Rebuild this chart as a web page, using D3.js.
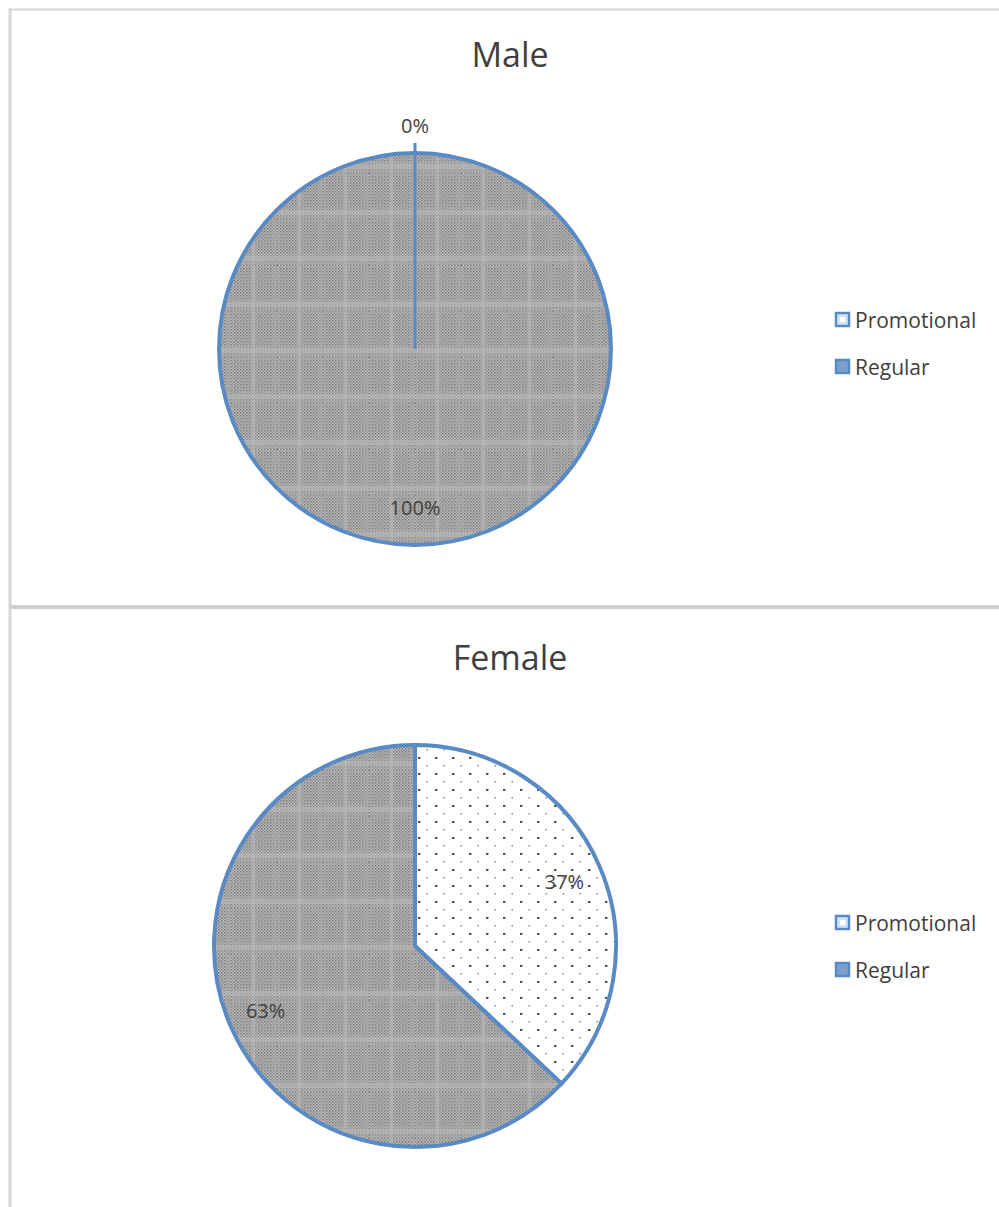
<!DOCTYPE html>
<html lang="en">
<head>
<meta charset="utf-8">
<title>Male / Female - Promotional vs Regular</title>
<script src="https://d3js.org/d3.v7.min.js"></script>
<style>
  body { margin: 0; background: #fff; }
  text { font-family: "Open Sans", "Noto Sans", sans-serif; }
</style>
</head>
<body>
<script>
// data
var categories = ["Promotional", "Regular"];
var panelTitles = ["Male", "Female"];
var maleValues = [0, 100];
var femaleValues = [37, 63];
var panelValues = [maleValues, femaleValues];

var w = 999, h = 1207;
var blue = "#5a8ac4";

var svg = d3.select("body").append("svg")
  .attr("width", w).attr("height", h);

var defs = svg.append("defs");

// fine checker used inside the gray pattern
var fine = defs.append("pattern").attr("id", "fine")
  .attr("patternUnits", "userSpaceOnUse").attr("width", 3).attr("height", 3);
fine.append("rect").attr("width", 3).attr("height", 3).attr("fill", "#c0c0c0");
fine.append("rect").attr("width", 1.5).attr("height", 1.5).attr("fill", "#727272");
fine.append("rect").attr("x", 1.5).attr("y", 1.5).attr("width", 1.5).attr("height", 1.5).attr("fill", "#8c8c8c");

// coarse gray tile (regular slice)
var grayPat = defs.append("pattern").attr("id", "gray")
  .attr("patternUnits", "userSpaceOnUse").attr("width", 46).attr("height", 46)
  .attr("x", 0).attr("y", 8);
grayPat.append("rect").attr("width", 46).attr("height", 46).attr("fill", "#acacac");
grayPat.append("rect").attr("width", 46).attr("height", 46).attr("fill", "url(#fine)").attr("opacity", 0.6);
grayPat.append("rect").attr("x", 3).attr("y", 3).attr("width", 17).attr("height", 31).attr("fill", "url(#fine)");
grayPat.append("rect").attr("x", 25).attr("y", 3).attr("width", 16).attr("height", 31).attr("fill", "url(#fine)");
grayPat.append("rect").attr("x", 0).attr("y", 37).attr("width", 46).attr("height", 5).attr("fill", "#bcbcbc").attr("opacity", 0.45);
grayPat.append("rect").attr("x", 21).attr("y", 0).attr("width", 3).attr("height", 46).attr("fill", "#bcbcbc").attr("opacity", 0.45);

// dotted tile (promotional slice)
var dotPat = defs.append("pattern").attr("id", "dots")
  .attr("patternUnits", "userSpaceOnUse").attr("width", 17).attr("height", 16);
dotPat.append("rect").attr("width", 17).attr("height", 16).attr("fill", "#ffffff");
dotPat.append("rect").attr("x", 3).attr("y", 3).attr("width", 2.4).attr("height", 1.8).attr("fill", "#3a3a3a");
dotPat.append("rect").attr("x", 11.5).attr("y", 11).attr("width", 1.5).attr("height", 1.5).attr("fill", "#8a8a8a");

// panel borders
var borderColor = "#d6d6d6";
svg.append("line").attr("x1", 10).attr("x2", 10).attr("y1", 8).attr("y2", h)
  .attr("stroke", borderColor).attr("stroke-width", 3);
svg.append("line").attr("x1", 9).attr("x2", w).attr("y1", 9.5).attr("y2", 9.5)
  .attr("stroke", borderColor).attr("stroke-width", 2);
svg.append("line").attr("x1", 9).attr("x2", w).attr("y1", 607).attr("y2", 607)
  .attr("stroke", "#cfcfcf").attr("stroke-width", 4);

var panels = [
  { cx: 415, cy: 349, r: 196, titleY: 54, legendY: 320 },
  { cx: 415, cy: 946, r: 201, titleY: 657, legendY: 923 }
];

var pie = d3.pie().sort(null).value(function(d) { return d; });
var fills = ["url(#dots)", "url(#gray)"];

panels.forEach(function(p, i) {
  var values = panelValues[i];
  var total = d3.sum(values);

  svg.append("text")
    .attr("x", 510).attr("y", p.titleY)
    .attr("text-anchor", "middle").attr("dominant-baseline", "central")
    .attr("font-size", 34).attr("fill", "#404040")
    .text(panelTitles[i]);

  var g = svg.append("g").attr("transform", "translate(" + p.cx + "," + p.cy + ")");
  var arc = d3.arc().innerRadius(0).outerRadius(p.r);
  var labelArc = d3.arc().innerRadius(p.r * 0.81).outerRadius(p.r * 0.81);
  var arcs = pie(values);

  g.selectAll("path.slice").data(arcs).enter().append("path")
    .attr("class", "slice")
    .attr("d", arc)
    .attr("fill", function(d, j) { return fills[j]; })
    .attr("stroke", blue).attr("stroke-width", 4).attr("stroke-linejoin", "round");

  arcs.forEach(function(d, j) {
    var pct = Math.round(values[j] / total * 100) + "%";
    var pos;
    if (d.endAngle - d.startAngle < 0.01) {
      // zero slice: radius line and label outside
      var a = d.startAngle;
      g.append("line")
        .attr("x1", 0).attr("y1", 0)
        .attr("x2", Math.sin(a) * (p.r + 10)).attr("y2", -Math.cos(a) * (p.r + 10))
        .attr("stroke", blue).attr("stroke-width", 3);
      pos = [Math.sin(a) * (p.r + 28), -Math.cos(a) * (p.r + 28)];
    } else {
      pos = labelArc.centroid(d);
    }
    g.append("text")
      .attr("x", pos[0]).attr("y", pos[1])
      .attr("text-anchor", "middle").attr("dominant-baseline", "central")
      .attr("font-size", 20).attr("fill", "#404040")
      .text(pct);
  });

  // legend
  var lg = svg.append("g").attr("transform", "translate(835," + p.legendY + ")");
  categories.forEach(function(c, j) {
    var row = lg.append("g").attr("transform", "translate(0," + (j * 47) + ")");
    row.append("rect")
      .attr("x", 1).attr("y", -7).attr("width", 13).attr("height", 13)
      .attr("fill", j === 0 ? "#d2e6f8" : "#7b9ecb")
      .attr("stroke", blue).attr("stroke-width", 2.5);
    if (j === 0) {
      row.append("rect").attr("x", 5).attr("y", -3).attr("width", 5).attr("height", 5).attr("fill", "#ffffff");
    }
    row.append("text")
      .attr("x", 20).attr("y", 0)
      .attr("dominant-baseline", "central")
      .attr("font-size", 21).attr("fill", "#404040")
      .text(c);
  });
});
</script>
</body>
</html>
